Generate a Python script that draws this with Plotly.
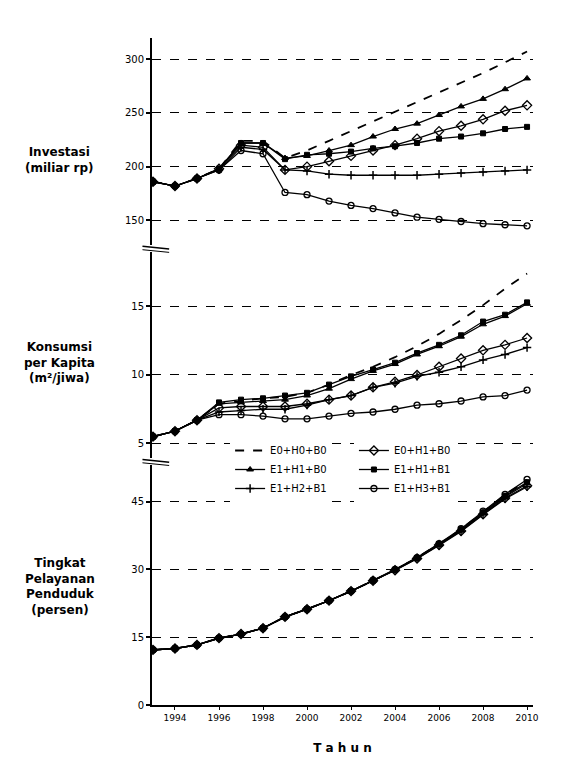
import plotly.graph_objects as go

years = list(range(1993, 2011))
x_tick_years = [1994, 1996, 1998, 2000, 2002, 2004, 2006, 2008, 2010]

series_names = ["E0+H0+B0", "E0+H1+B0", "E1+H1+B0", "E1+H1+B1", "E1+H2+B1", "E1+H3+B1"]

# Investasi (miliar rp)
inv_E0H0B0 = [186, 182, 189, 198, 224, 224, 208, 215, 224, 233, 242, 251, 260, 269, 278, 287, 297, 307]
inv_E0H1B0 = [186, 182, 189, 198, 220, 218, 197, 200, 205, 210, 215, 220, 226, 233, 238, 244, 252, 257]
inv_E1H1B0 = [186, 182, 189, 198, 222, 222, 208, 210, 215, 220, 228, 235, 240, 248, 256, 263, 272, 282]
inv_E1H1B1 = [186, 182, 189, 198, 222, 222, 207, 211, 212, 214, 217, 219, 222, 226, 228, 231, 235, 237]
inv_E1H2B1 = [186, 182, 189, 197, 218, 216, 197, 196, 193, 192, 192, 192, 192, 193, 194, 195, 196, 197]
inv_E1H3B1 = [186, 182, 189, 197, 215, 212, 176, 174, 168, 164, 161, 157, 153, 151, 149, 147, 146, 145]

# Konsumsi per kapita (m2/jiwa)
kon_E0H0B0 = [5.5, 5.9, 6.7, 7.9, 8.1, 8.3, 8.4, 8.7, 9.3, 10.0, 10.6, 11.3, 12.1, 13.0, 14.0, 15.1, 16.3, 17.4]
kon_E0H1B0 = [5.5, 5.9, 6.7, 7.6, 7.7, 7.7, 7.7, 7.9, 8.2, 8.5, 9.1, 9.5, 10.0, 10.6, 11.2, 11.8, 12.2, 12.7]
kon_E1H1B0 = [5.5, 5.9, 6.7, 7.9, 8.0, 8.1, 8.2, 8.5, 9.0, 9.7, 10.3, 10.8, 11.5, 12.1, 12.8, 13.7, 14.3, 15.2]
kon_E1H1B1 = [5.5, 5.9, 6.7, 8.0, 8.2, 8.3, 8.5, 8.7, 9.3, 9.9, 10.4, 10.9, 11.6, 12.2, 12.9, 13.9, 14.4, 15.3]
kon_E1H2B1 = [5.5, 5.9, 6.7, 7.3, 7.4, 7.5, 7.5, 7.8, 8.2, 8.5, 9.1, 9.4, 9.9, 10.2, 10.6, 11.1, 11.5, 12.0]
kon_E1H3B1 = [5.5, 5.9, 6.7, 7.1, 7.1, 7.0, 6.8, 6.8, 7.0, 7.2, 7.3, 7.5, 7.8, 7.9, 8.1, 8.4, 8.5, 8.9]

# Tingkat pelayanan penduduk (persen)
pel_E0H0B0 = [12.2, 12.5, 13.3, 14.8, 15.7, 17.0, 19.5, 21.2, 23.1, 25.2, 27.5, 29.9, 32.6, 35.6, 38.9, 42.8, 46.5, 49.6]
pel_E0H1B0 = [12.2, 12.5, 13.3, 14.8, 15.7, 17.0, 19.5, 21.2, 23.1, 25.2, 27.5, 29.8, 32.4, 35.4, 38.5, 42.2, 45.8, 48.5]
pel_E1H1B0 = [12.2, 12.5, 13.3, 14.8, 15.7, 17.0, 19.5, 21.2, 23.1, 25.2, 27.5, 29.9, 32.5, 35.5, 38.7, 42.5, 46.1, 49.0]
pel_E1H1B1 = [12.2, 12.5, 13.3, 14.8, 15.7, 17.0, 19.5, 21.2, 23.1, 25.2, 27.5, 29.9, 32.5, 35.6, 38.8, 42.6, 46.3, 49.3]
pel_E1H2B1 = [12.2, 12.5, 13.3, 14.8, 15.7, 17.0, 19.5, 21.2, 23.1, 25.2, 27.5, 29.9, 32.4, 35.3, 38.4, 42.1, 45.6, 48.3]
pel_E1H3B1 = [12.2, 12.5, 13.3, 14.8, 15.7, 17.0, 19.5, 21.2, 23.1, 25.2, 27.6, 30.0, 32.6, 35.7, 39.0, 42.9, 46.6, 49.9]

inv = [inv_E0H0B0, inv_E0H1B0, inv_E1H1B0, inv_E1H1B1, inv_E1H2B1, inv_E1H3B1]
kon = [kon_E0H0B0, kon_E0H1B0, kon_E1H1B0, kon_E1H1B1, kon_E1H2B1, kon_E1H3B1]
pel = [pel_E0H0B0, pel_E0H1B0, pel_E1H1B0, pel_E1H1B1, pel_E1H2B1, pel_E1H3B1]

styles = [
    dict(mode="lines", line=dict(color="black", width=1.8, dash="dash")),
    dict(mode="lines+markers", line=dict(color="black", width=1.3),
         marker=dict(symbol="diamond-open", size=7, color="black", line=dict(color="black", width=1.3))),
    dict(mode="lines+markers", line=dict(color="black", width=1.3),
         marker=dict(symbol="triangle-up", size=6, color="black", line=dict(color="black", width=1))),
    dict(mode="lines+markers", line=dict(color="black", width=1.3),
         marker=dict(symbol="square", size=5, color="black", line=dict(color="black", width=1))),
    dict(mode="lines+markers", line=dict(color="black", width=1.3),
         marker=dict(symbol="cross-thin-open", size=6, color="black", line=dict(color="black", width=1.5))),
    dict(mode="lines+markers", line=dict(color="black", width=1.3),
         marker=dict(symbol="circle-open", size=6, color="black", line=dict(color="black", width=1.3))),
]
# two legend columns: left column holds series 0,2,4; right column 1,3,5
legend_of = ["legend", "legend2", "legend", "legend2", "legend", "legend2"]

fig = go.Figure()
for panel_data, yax in [(inv, "y"), (kon, "y2"), (pel, "y3")]:
    for i, name in enumerate(series_names):
        fig.add_trace(go.Scatter(
            x=years, y=panel_data[i], name=name, legend=legend_of[i],
            showlegend=(yax == "y"), xaxis="x", yaxis=yax, **styles[i]))

font_main = "DejaVu Sans"
yaxis_common = dict(
    showline=True, linecolor="black", linewidth=2, ticks="outside", ticklen=4,
    tickcolor="black", tickwidth=1.5, showgrid=True, gridcolor="black", gridwidth=1.2,
    griddash="dash", zeroline=False, tickfont=dict(family=font_main, size=10, color="black"),
    fixedrange=True,
)

legend_common = dict(
    orientation="v", yanchor="top", xanchor="left", y=0.4033,
    bgcolor="white", borderwidth=0, traceorder="normal",
    font=dict(family=font_main, size=10, color="black"),
)

fig.update_layout(
    width=573, height=777,
    margin=dict(l=152, r=40, t=38, b=72),
    paper_bgcolor="white", plot_bgcolor="white",
    font=dict(family=font_main, color="black"),
    xaxis=dict(
        range=[1992.955, 2010.27], anchor="y3", showline=True, linecolor="black", linewidth=1.5,
        tickvals=x_tick_years, ticks="outside", ticklen=3, tickcolor="black",
        showgrid=False, zeroline=False,
        tickfont=dict(family=font_main, size=9, color="black"),
        title=dict(text="T a h u n", font=dict(family=font_main, size=12, color="black", weight="bold"),
                   standoff=22),
    ),
    yaxis=dict(domain=[0.6897, 1.0], range=[127.2, 319.6], tickvals=[150, 200, 250, 300], **yaxis_common),
    yaxis2=dict(domain=[0.3703, 0.6792], range=[3.94, 18.98], tickvals=[5, 10, 15], **yaxis_common),
    yaxis3=dict(domain=[0.0, 0.3598], range=[0, 53.1], tickvals=[0, 15, 30, 45], **yaxis_common),
    legend=dict(x=0.205, **legend_common),
    legend2=dict(x=0.53, **legend_common),
)

label_font = dict(family=font_main, size=12, color="black", weight="bold")
labels = [
    ("Investasi<br>(miliar rp)", 0.817),
    ("Konsumsi<br>per Kapita<br>(m²/jiwa)", 0.513),
    ("Tingkat<br>Pelayanan<br>Penduduk<br>(persen)", 0.178),
]
for txt, yy in labels:
    fig.add_annotation(text=txt, xref="paper", yref="paper", x=-0.242, y=yy,
                       xanchor="center", yanchor="middle", showarrow=False,
                       font=label_font, align="center")

# axis break marks
for yb in [0.6846, 0.3651]:
    fig.add_shape(type="line", xref="paper", yref="paper", x0=-0.025, x1=0.045,
                  y0=yb + 0.003, y1=yb - 0.001, line=dict(color="black", width=1.5))
    fig.add_shape(type="line", xref="paper", yref="paper", x0=-0.025, x1=0.045,
                  y0=yb - 0.002, y1=yb - 0.006, line=dict(color="black", width=1.0))

fig.write_html("out.html")
